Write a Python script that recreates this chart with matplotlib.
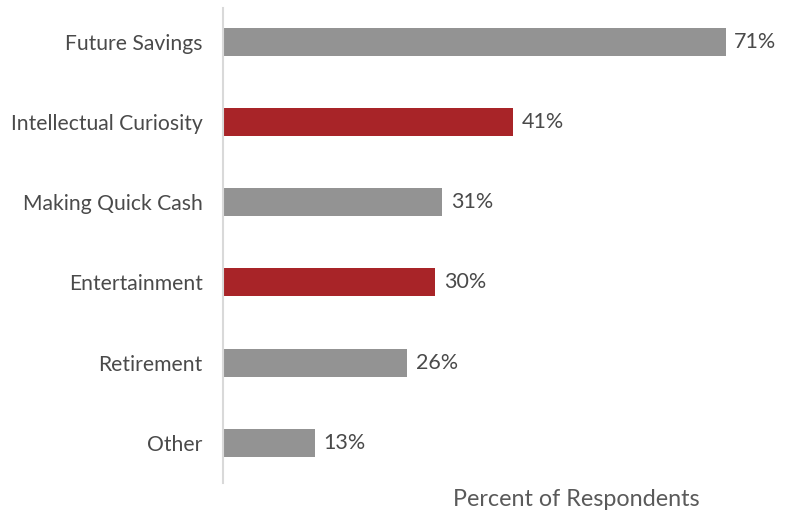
import matplotlib.pyplot as plt

plt.rcParams['font.family'] = ['Lato', 'DejaVu Sans']

categories = ["Future Savings", "Intellectual Curiosity", "Making Quick Cash",
              "Entertainment", "Retirement", "Other"]
values = [71, 41, 31, 30, 26, 13]
highlight = [False, True, False, True, False, False]

GRAY = "#939393"
RED = "#a82428"
TEXT = "#4a4a4a"

fig = plt.figure(figsize=(7.89, 5.17), dpi=100)
ax = fig.add_axes([223 / 789, 34 / 517, 531 / 789, 475 / 517])

colors = [RED if h else GRAY for h in highlight]
ypos = range(len(categories))
ax.barh(ypos, values, height=0.35, color=colors)

for y, v in zip(ypos, values):
    ax.text(v + 1.2, y, f"{v}%", va="center", ha="left", fontsize=15.5, color=TEXT)

ax.set_xlim(0, 75)
ax.set_ylim(5.5, -0.42)
ax.set_yticks(list(ypos))
ax.set_yticklabels(categories, fontsize=15.2, color=TEXT)
ax.tick_params(axis="y", length=0, pad=14.5)
ax.set_xticks([])

for side in ["top", "right", "bottom"]:
    ax.spines[side].set_visible(False)
ax.spines["left"].set_color("#d9d9d9")
ax.spines["left"].set_linewidth(1.5)

fig.text(576 / 789, 1 - 500 / 517, "Percent of Respondents", ha="center", va="center",
         fontsize=16.8, color="#5a5a5a")

fig.savefig("out.png", dpi=100)
